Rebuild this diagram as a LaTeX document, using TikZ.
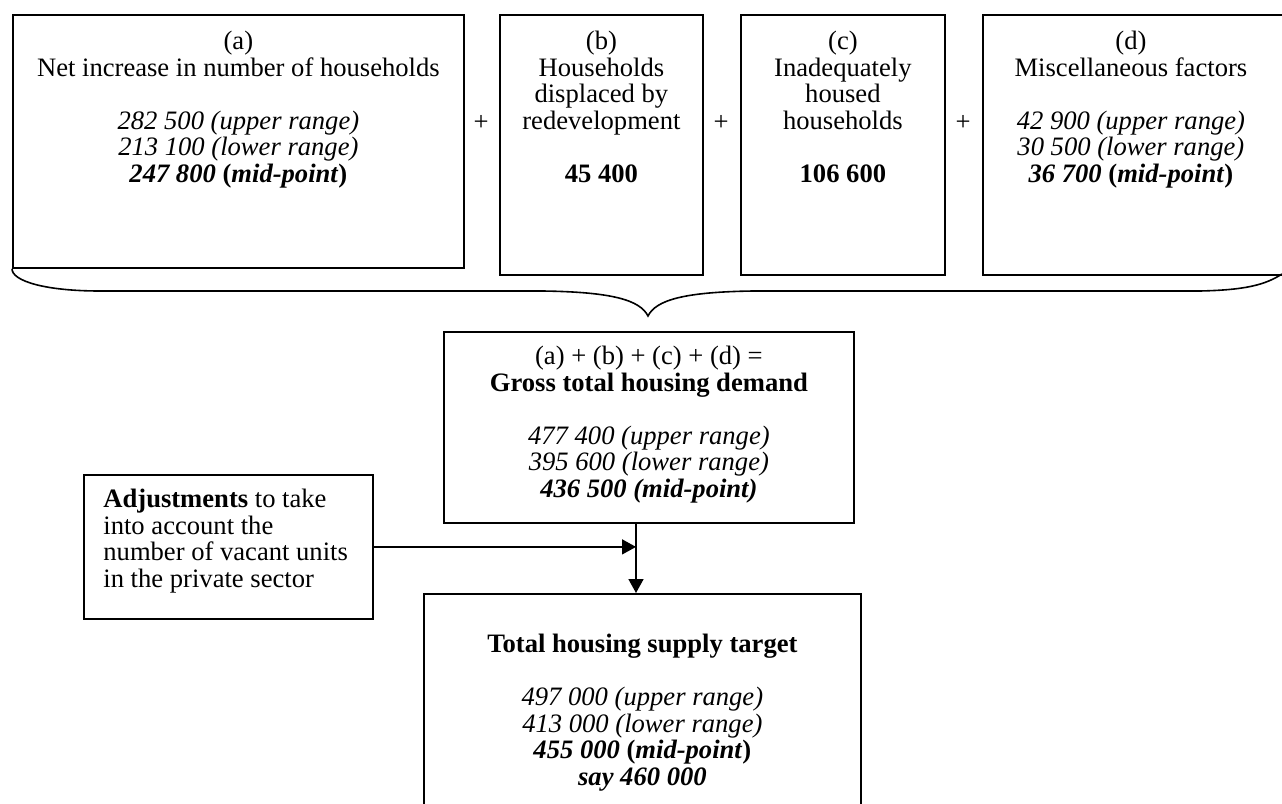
\documentclass[tikz,border=0pt]{standalone}
\usepackage{fontspec}
\setmainfont{Liberation Serif}
\usetikzlibrary{positioning,arrows.meta}

\begin{document}
\begin{tikzpicture}[
  x=0.5pt, y=-0.5pt,
  font=\fontsize{13.3}{13.25}\selectfont,
  % Node Styles
  framebox/.style={rectangle, draw, line width=0.9pt, anchor=north west, inner sep=0pt},
  boxtext/.style={inner sep=0pt, align=center},
  plussign/.style={inner sep=0pt},
  % Arrow Styles
  flowarrow/.style={-{Triangle[length=7pt,width=7.5pt]}, line width=0.8pt},
  bracestyle/.style={line width=0.8pt},
]
\useasboundingbox (0,0) rectangle (1282,804);

% Demand components

\node[framebox, minimum width=225.5pt, minimum height=126.5pt] (boxA) at (12,14) {};
\node[boxtext, below=8.5pt of boxA.north] (txtA) {(a)\\Net increase in number of households\\[13.25pt]\textit{282 500 (upper range)}\\\textit{213 100 (lower range)}\\\textbf{\textit{247 800} (\textit{mid-point})}};

\node[framebox, minimum width=101.5pt, minimum height=130pt] (boxB) at (499,14) {};
\node[boxtext, below=8.5pt of boxB.north] (txtB) {(b)\\Households\\displaced by\\redevelopment\\[13.25pt]\textbf{45 400}};

\node[framebox, minimum width=102pt, minimum height=130pt] (boxC) at (740,14) {};
\node[boxtext, below=8.5pt of boxC.north] (txtC) {(c)\\Inadequately\\housed\\households\\[13.25pt]\textbf{106 600}};

\node[framebox, minimum width=154pt, minimum height=130pt] (boxD) at (982,14) {};
\node[boxtext, below=8.5pt of boxD.north, xshift=-3pt] (txtD) {(d)\\Miscellaneous factors\\[13.25pt]\textit{42 900 (upper range)}\\\textit{30 500 (lower range)}\\\textbf{\textit{36 700} (\textit{mid-point})}};

\node[plussign] (plusAB) at (481,123) {+};
\node[plussign] (plusBC) at (721,123) {+};
\node[plussign] (plusCD) at (963,123) {+};

% Brace under the components
\coordinate (braceEnd) at (1282,274);
\draw[bracestyle] (boxA.south west) .. controls (12,281) and (45,291) .. (100,291) -- (543,291)
  .. controls (612,292) and (640,300) .. (648,316)
  .. controls (656,300) and (684,292) .. (753,291) -- (1200,291)
  .. controls (1245,290) and (1265,285) .. (braceEnd);

% Totals

\node[framebox, minimum width=205pt, minimum height=95.5pt] (gross) at (443,331) {};
\node[boxtext, below=7.5pt of gross.north] (txtGross) {(a) + (b) + (c) + (d) =\\\textbf{Gross total housing demand}\\[13.25pt]\textit{477 400 (upper range)}\\\textit{395 600 (lower range)}\\\textbf{\textit{436 500 (mid-point)}}};

\node[framebox, minimum width=144.5pt, minimum height=72pt] (adj) at (83,474) {};
\node[boxtext, align=left, below right=7.5pt and 10pt of adj.north west] (txtAdj) {\textbf{Adjustments} to take\\into account the\\number of vacant units\\in the private sector};

\node[framebox, minimum width=218.5pt, minimum height=110pt] (total) at (423,593) {};
\node[boxtext, below=20.5pt of total.north] (txtTotal) {\textbf{Total housing supply target}\\[13.25pt]\textit{497 000 (upper range)}\\\textit{413 000 (lower range)}\\\textbf{\textit{455 000} (\textit{mid-point})}\\\textbf{\textit{say 460 000}}};

\coordinate (join) at (636,547);
\draw[flowarrow] (adj.east) -- (adj.east -| join);
\draw[flowarrow] (gross.south -| join) -- (total.north -| join);

\end{tikzpicture}
\end{document}
